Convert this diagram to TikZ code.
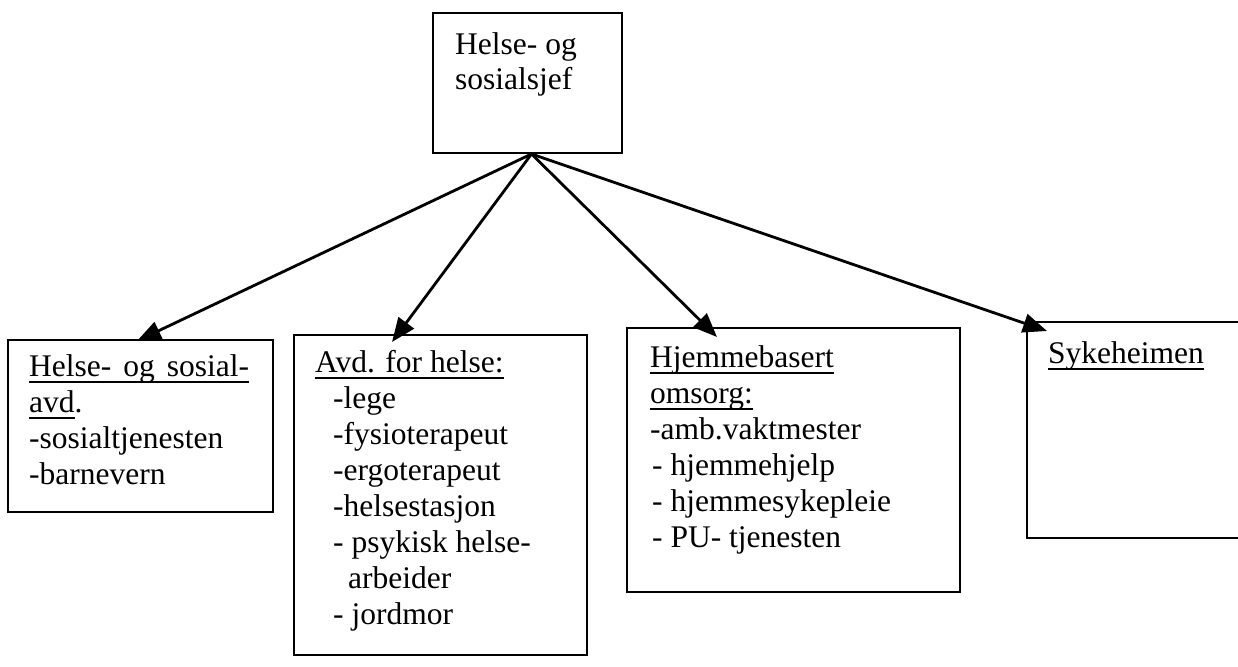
\documentclass[tikz,border=0pt]{standalone}
\usepackage{fontspec}
\setmainfont{Liberation Serif}
\usetikzlibrary{arrows.meta,calc}
\newcommand{\ulin}[1]{{\setbox0\hbox{#1}\rlap{\rule[-6.5pt]{\wd0}{1.4pt}}\box0}}
\begin{document}
\begin{tikzpicture}[x=1pt,y=-1pt,
  frame/.style={draw=black,line width=2pt,rectangle,inner sep=0pt},
  txt/.style={anchor=base west,inner sep=0pt,font=\fontsize{31.5}{36}\selectfont},
  arr/.style={line width=2.8pt,-{Triangle[length=24pt,width=19pt]}}]
\useasboundingbox (0,0) rectangle (1238,666);
\clip (0,0) rectangle (1238,666);
% boxes
\node[frame,minimum width=189pt,minimum height=140pt] (top) at (527.5,83) {};
\node[frame,minimum width=265pt,minimum height=172pt] (b1) at (140.5,426) {};
\node[frame,minimum width=293pt,minimum height=320pt] (b2) at (440.5,495) {};
\node[frame,minimum width=333pt,minimum height=264pt] (b3) at (793.5,460) {};
\node[frame,minimum width=233pt,minimum height=216pt] (b4) at (1143.5,430) {};
% texts
\node[txt,font=\fontsize{31.5}{35}\selectfont] (ttop) at (455,55) {\begin{tabular}[t]{@{}l@{}}Helse- og\\sosialsjef\end{tabular}};
\node[txt] (t1) at (29,376) {\begin{tabular}[t]{@{}l@{}}\ulin{Helse-\hspace{12pt}og\hspace{12pt}sosial-}\\\ulin{avd}.\\-sosialtjenesten\\-barnevern\end{tabular}};
\node[txt] (t2) at (315,372) {\begin{tabular}[t]{@{}l@{}}\ulin{Avd. for helse:}\\\hspace{18pt}-lege\\\hspace{18pt}-fysioterapeut\\\hspace{18pt}-ergoterapeut\\\hspace{18pt}-helsestasjon\\\hspace{18pt}- psykisk helse-\\\hspace{33pt}arbeider\\\hspace{18pt}- jordmor\end{tabular}};
\node[txt] (t3) at (650,367) {\begin{tabular}[t]{@{}l@{}}\ulin{Hjemmebasert}\\\ulin{omsorg:}\\-amb.vaktmester\\\hspace{2pt}- hjemmehjelp\\\hspace{2pt}- hjemmesykepleie\\\hspace{2pt}- PU- tjenesten\end{tabular}};
\node[txt] (t4) at (1048,363) {\ulin{Sykeheimen}};
% connectors
\coordinate (src) at ($(top.south)+(4,0)$);
\draw[arr] (src) -- ($(b1.north west)+(130,2)$);
\draw[arr] (src) -- ($(b2.north west)+(99,8)$);
\draw[arr] (src) -- ($(b3.north west)+(91,10)$);
\draw[arr] (src) -- ($(b4.north west)+(21,10)$);
\end{tikzpicture}
\end{document}
